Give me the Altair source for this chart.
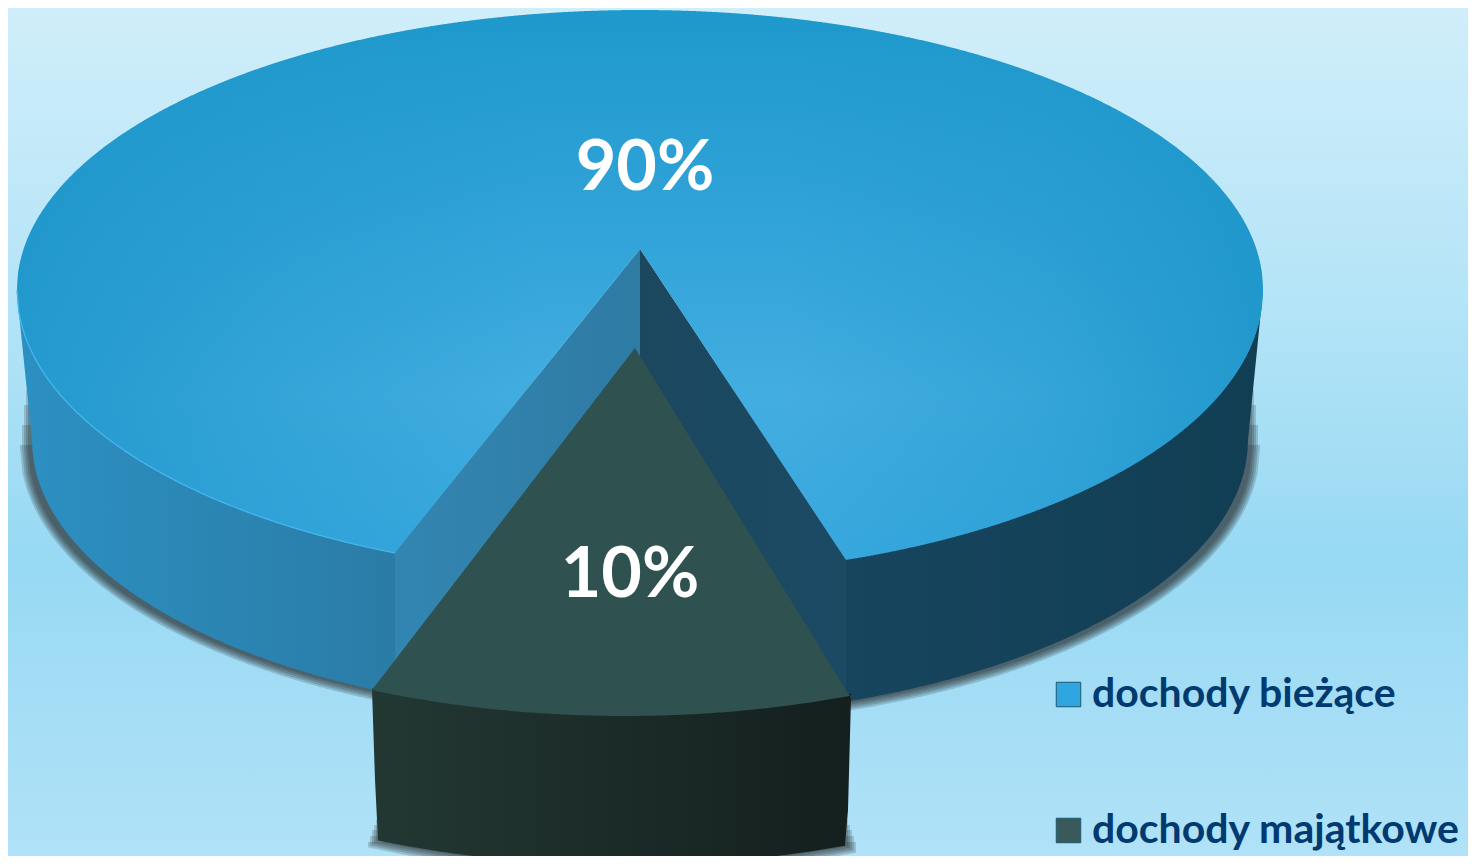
import numpy as np
import pandas as pd
import altair as alt

# ---- values shown by the chart ----
categories = ["dochody bieżące", "dochody majątkowe"]
shares = [90, 10]
share_labels = ["90%", "10%"]
swatch_colors = ["#2FA6DF", "#3A5A5A"]
label_x = [645, 630]
label_y = [190, 597]

# ---- canvas ----
W, H = 1460, 848
sx = alt.Scale(domain=[8, 8 + W], nice=False, zero=False)
sy = alt.Scale(domain=[8 + H, 8], nice=False, zero=False)

# ---- pie geometry (ellipses of the tilted disc) ----
CX, RX, CY, RY_UP, RY_DOWN = 640, 623, 290, 280, 286      # top face
BX, BRX, BY, BRY = 640, 608, 440, 278                     # bottom rim
APEX = (640, 249)
CUT_L, CUT_R = (395, 553), (846, 560)
W_APEX = (635, 348)
W_L, W_R = (372, 690), (851, 698)
WX, WRX, WY, WRY = 625, 640, 399, 317                     # wedge outer arc
WALL = 149
W_BL, W_BR = 377, 847
SHADOW_GROW = [9, 7, 5, 3, 1]
SHADOW_TOP_MAIN = [445, 425, 405, 390, 375]
SHADOW_TOP_WEDGE = [842, 836, 830, 825, 820]


def ell(x, cx, rx):
    return np.sqrt(np.clip(1 - ((x - cx) / rx) ** 2, 0, 1))


def line(x, p, q):
    return p[1] + (x - p[0]) * (q[1] - p[1]) / (q[0] - p[0])


def axis_x():
    return alt.X("x:Q", scale=sx, axis=None)


def band(x, up, low, fill, **kw):
    d = pd.DataFrame({"x": x, "y": up, "y2": low})
    return alt.Chart(d).mark_area(fill=fill, clip=True, interpolate="linear", **kw).encode(
        x=axis_x(), y=alt.Y("y:Q", scale=sy, axis=None), y2="y2:Q"
    )


def hgrad(a, b):
    return alt.Gradient(gradient="linear", x1=0, x2=1, y1=0, y2=0,
                        stops=[alt.GradientStop(offset=0, color=a), alt.GradientStop(offset=1, color=b)])


# ---- hidden first layer: the real data, feeding the legend ----
slices = pd.DataFrame({"kategoria": categories, "udzial": shares})
legend_layer = alt.Chart(slices).mark_square(size=1).encode(
    x=alt.value(700), y=alt.value(400),
    color=alt.Color("kategoria:N",
                    scale=alt.Scale(domain=categories, range=swatch_colors),
                    legend=alt.Legend(title=None, orient="none", legendX=1040, legendY=666,
                                      symbolType="square", symbolSize=600, symbolStrokeWidth=1,
                                      symbolStrokeColor="#1d5a70", symbolOpacity=1,
                                      labelFont="Lato", labelFontWeight="bold", labelFontSize=41,
                                      labelColor="#003A70", labelLimit=500, labelOffset=3,
                                      rowPadding=94)),
)

# ---- background ----
bg_df = pd.DataFrame({"x": [8], "x2": [8 + W], "y": [8], "y2": [8 + H]})
bg_fill = alt.Gradient(gradient="linear", x1=0, x2=0, y1=0, y2=1, stops=[
    alt.GradientStop(offset=0, color="#D0EEFA"),
    alt.GradientStop(offset=0.35, color="#B4E4F7"),
    alt.GradientStop(offset=0.65, color="#98D9F3"),
    alt.GradientStop(offset=1, color="#B0E2F8"),
])
background = alt.Chart(bg_df).mark_rect(fill=bg_fill).encode(
    x=axis_x(), x2="x2:Q", y=alt.Y("y:Q", scale=sy, axis=None), y2="y2:Q"
)

layers = [legend_layer, background]

# ---- soft shadow under disc and under the pulled-out slice ----
for g, t_main, t_wedge in zip(SHADOW_GROW, SHADOW_TOP_MAIN, SHADOW_TOP_WEDGE):
    r = BRX + g + 3
    xs = np.linspace(BX - r, BX + r, 500)
    e = ell(xs, BX, r)
    layers.append(band(xs, np.full_like(xs, float(t_main)), BY + (BRY + g) * e + 8 * (1 - e),
                       "#1a1a1a", opacity=0.18))
    xs = np.linspace(W_BL - g, W_BR + g, 120)
    layers.append(band(xs, np.full_like(xs, float(t_wedge)),
                       WY + WRY * ell(xs, WX, WRX) + WALL + g, "#1a1a1a", opacity=0.18))

# ---- outer wall of the big slice ----
xs = np.r_[np.linspace(CX - RX, BX - BRX, 6), np.linspace(BX - BRX + 0.5, CUT_L[0], 200)]
low = np.where(xs < BX - BRX, line(xs, (CX - RX, CY + 4), (BX - BRX, BY)), BY + BRY * ell(xs, BX, BRX))
layers.append(band(xs, np.full_like(xs, CY), low, hgrad("#2C90C2", "#2A7CA6")))

xs = np.r_[np.linspace(CUT_R[0], BX + BRX - 0.5, 200), np.linspace(BX + BRX, CX + RX, 6)]
low = np.where(xs > BX + BRX, line(xs, (BX + BRX, BY), (CX + RX, CY)), BY + BRY * ell(xs, BX, BRX))
layers.append(band(xs, np.full_like(xs, CY), low, hgrad("#17455E", "#113E53")))

# ---- inner walls of the notch ----
xs = np.linspace(CUT_L[0], APEX[0], 60)
layers.append(band(xs, line(xs, CUT_L, APEX), line(xs, (CUT_L[0], 700), (APEX[0], 400)),
                   hgrad("#3386B2", "#2E7BA4")))
xs = np.linspace(APEX[0], CUT_R[0], 60)
layers.append(band(xs, line(xs, APEX, CUT_R), line(xs, (APEX[0], 400), (CUT_R[0], 695)),
                   hgrad("#1B475F", "#1C4A64")))

# ---- top face of the big slice ----
xs = np.linspace(CX - RX, CX + RX, 1200)
e = ell(xs, CX, RX)
low = CY + RY_DOWN * e
left = (xs >= CUT_L[0]) & (xs <= APEX[0])
right = (xs > APEX[0]) & (xs <= CUT_R[0])
low = np.where(left, line(xs, CUT_L, APEX), low)
low = np.where(right, line(xs, APEX, CUT_R), low)
top_fill = alt.Gradient(gradient="linear", x1=0, x2=0, y1=0, y2=1, stops=[
    alt.GradientStop(offset=0, color="#1E99CC"),
    alt.GradientStop(offset=0.35, color="#2FA2D7"),
    alt.GradientStop(offset=0.70, color="#42ADE0"),
    alt.GradientStop(offset=1, color="#38A8DE"),
])
layers.append(band(xs, CY - RY_UP * e, low, top_fill))
side_fill = alt.Gradient(gradient="linear", x1=0, x2=1, y1=0, y2=0, stops=[
    alt.GradientStop(offset=0, color="rgba(30,150,202,0.85)"),
    alt.GradientStop(offset=0.22, color="rgba(30,150,202,0.35)"),
    alt.GradientStop(offset=0.42, color="rgba(30,150,202,0)"),
    alt.GradientStop(offset=0.62, color="rgba(30,150,202,0)"),
    alt.GradientStop(offset=0.82, color="rgba(30,150,202,0.35)"),
    alt.GradientStop(offset=1, color="rgba(30,150,202,0.9)"),
])
layers.append(band(xs, CY - RY_UP * e, low, side_fill))

# thin highlight on the front-left rim
xs = np.linspace(CX - RX, CUT_L[0], 200)
rim = pd.DataFrame({"x": xs, "y": CY + RY_DOWN * ell(xs, CX, RX)})
layers.append(alt.Chart(rim).mark_line(color="#45B6EE", strokeWidth=1.3, clip=True).encode(
    x=axis_x(), y=alt.Y("y:Q", scale=sy, axis=None)))

# ---- pulled-out slice: outer wall and top face ----
xs = np.linspace(W_L[0], W_R[0], 160)
arc = WY + WRY * ell(xs, WX, WRX)
low_left = np.where(xs < W_BL, line(xs, W_L, (W_BL, W_L[1] + WALL)), arc + WALL)
low_wall = np.where(xs > W_BR, line(xs, (W_BR, W_R[1] + WALL), W_R), low_left)
layers.append(band(xs, arc - 2, low_wall, hgrad("#233833", "#141F1E")))

xs2 = np.r_[xs[xs < W_APEX[0]], W_APEX[0], xs[xs > W_APEX[0]]]
arc2 = WY + WRY * ell(xs2, WX, WRX)
up2 = np.where(xs2 <= W_APEX[0], line(xs2, W_L, W_APEX), line(xs2, W_APEX, W_R))
layers.append(band(xs2, up2, arc2, "#2F5150"))

# ---- percentage labels ----
lab = pd.DataFrame({"t": share_labels, "x": label_x, "y": label_y})
layers.append(alt.Chart(lab).mark_text(font="Lato", fontWeight="bold", fontSize=70, color="white",
                                       align="center", baseline="alphabetic").encode(
    x=axis_x(), y=alt.Y("y:Q", scale=sy, axis=None), text="t:N"))

chart = alt.layer(*layers).properties(width=W, height=H, padding=0).configure_view(stroke=None)
chart.save("out.html", embed_options={"renderer": "svg", "actions": False})
